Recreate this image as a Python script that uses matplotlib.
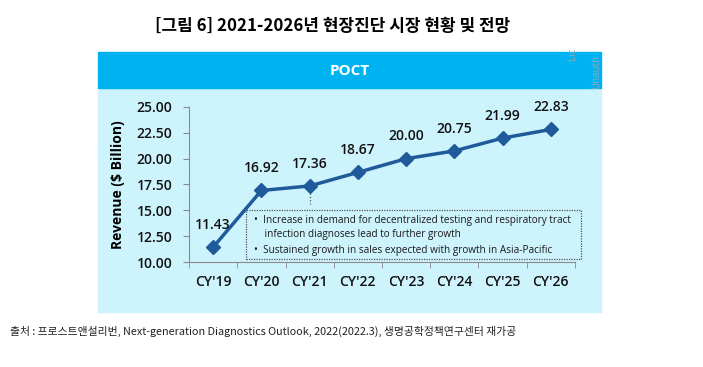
import matplotlib
matplotlib.use("Agg")
import matplotlib.pyplot as plt
import matplotlib.patches as mpatches
import numpy as np

plt.rcParams['font.family'] = ['Open Sans', 'Noto Sans CJK KR', 'DejaVu Sans']

years = ["CY'19", "CY'20", "CY'21", "CY'22", "CY'23", "CY'24", "CY'25", "CY'26"]
revenue = [11.43, 16.92, 17.36, 18.67, 20.00, 20.75, 21.99, 22.83]
yticks = [10.0, 12.5, 15.0, 17.5, 20.0, 22.5, 25.0]
notes = ["\u2022  Increase in demand for decentralized testing and respiratory tract",
         "    infection diagnoses lead to further growth",
         "\u2022  Sustained growth in sales expected with growth in Asia-Pacific"]

W, H = 703, 367
fig = plt.figure(figsize=(W / 100, H / 100), dpi=100)

def px(x, y):
    # pixel coords (top-left origin) -> figure fraction
    return x / W, 1 - y / H

# panel background + header bar
fig.patches.append(mpatches.Rectangle(px(98, 312), 503 / W, 224 / H,
                                      transform=fig.transFigure, color="#cdf3fd", zorder=-2))
fig.patches.append(mpatches.Rectangle(px(98, 88), 503 / W, 36 / H,
                                      transform=fig.transFigure, color="#00b2f0", zorder=-2))
fig.text(*px(350, 71), "POCT", color="white", fontsize=11, fontweight="bold",
         ha="center", va="center")

fig.text(*px(333, 26), "[그림 6] 2021-2026년 현장진단 시장 현황 및 전망",
         fontsize=12.2, fontweight="bold", ha="center", va="center",
         family=['Noto Sans CJK KR', 'DejaVu Sans'])
fig.text(*px(10, 331), "출처 : 프로스트앤설리번, Next-generation Diagnostics Outlook, 2022(2022.3), 생명공학정책연구센터 재가공",
         fontsize=7.8, ha="left", va="center", color="#222222",
         family=['Noto Sans CJK KR', 'DejaVu Sans'])

# faint watermark fragments
fig.text(*px(573, 54), "Lic", fontsize=7, color="#9aa6b0", rotation=90, ha="center", va="center")
fig.text(*px(597, 72), "Unauth", fontsize=7, color="#9aa6b0", rotation=90, ha="center", va="center")

ax = fig.add_axes([189 / W, (H - 262) / H, (575 - 189) / W, 155 / H])
ax.patch.set_alpha(0)
x = np.arange(len(years))
ax.plot(x, revenue, color="#1f5b9b", lw=2.5, marker="D", ms=7, zorder=3)
for xi, v in zip(x, revenue):
    ax.annotate(f"{v:.2f}", (xi, v), xytext=(0, 11), textcoords="offset points",
                ha="center", va="bottom", fontsize=10, color="#111111", fontweight=600)

ax.set_xlim(-0.5, len(years) - 0.5)
ax.set_ylim(10, 25)
ax.set_yticks(yticks)
ax.set_yticklabels([f"{t:.2f}" for t in yticks], fontweight=600)
ax.set_xticks(x)
ax.set_xticklabels(years, fontweight=600)
ax.set_xticks(np.arange(-0.5, len(years)), minor=True)
ax.tick_params(axis="x", which="major", length=0, pad=9, labelsize=10, labelcolor="#111111")
ax.tick_params(axis="x", which="minor", length=4, color="#8a8a8a", direction="out")
ax.tick_params(axis="y", length=4, color="#8a8a8a", labelsize=10, labelcolor="#111111", pad=8)
ax.spines["top"].set_visible(False)
ax.spines["right"].set_visible(False)
for s in ("left", "bottom"):
    ax.spines[s].set_color("#8a8a8a")
ax.set_ylabel("Revenue ($ Billion)", fontsize=10, fontweight="bold", labelpad=8)

# dotted note box with leader line
ax.plot([2, 2], [16.7, 15.6], ls=":", color="#555555", lw=0.9)
box = mpatches.Rectangle(px(246, 259), (581 - 246) / W, 49 / H,
                         transform=fig.transFigure, fill=False, ls=(0, (1, 1)),
                         lw=0.9, edgecolor="#555555")
fig.patches.append(box)
fig.text(*px(254, 235), "\n".join(notes), fontsize=7.2, va="center", ha="left",
         color="#1a1a1a", linespacing=1.5)

fig.savefig("out.png", dpi=100)
